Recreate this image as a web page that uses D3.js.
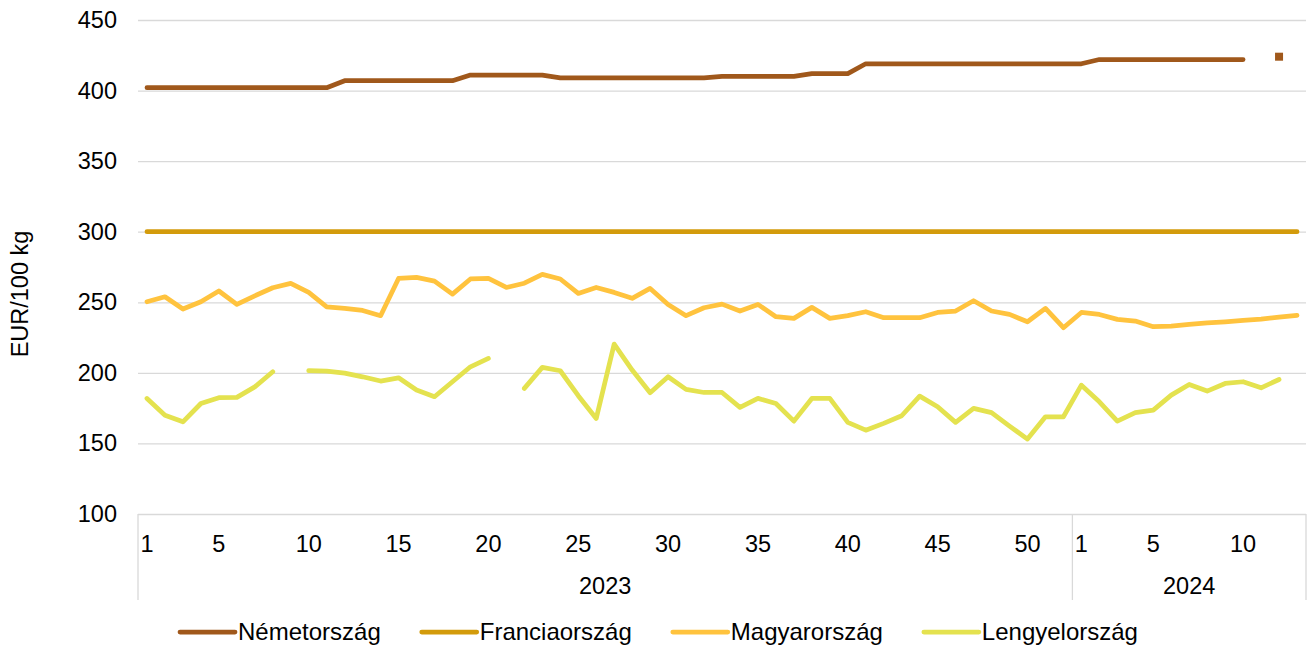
<!DOCTYPE html>
<meta charset="utf-8">
<style>
body {
  margin: 0;
  background-color: #ffffff;
}
text {
  font-family: Arial, "Liberation Sans", sans-serif;
  fill: #000;
}
.grid line {
  stroke: #d9d9d9;
  stroke-width: 1.3px;
}
.grid path {
  display: none;
}
.series {
  fill: none;
  stroke-width: 4.75px;
  stroke-linecap: round;
  stroke-linejoin: round;
}
</style>
<body>
<script src="https://d3js.org/d3.v7.min.js"></script>
<script>
  // categories: week numbers per year
  var weeks2023 = [1,2,3,4,5,6,7,8,9,10,11,12,13,14,15,16,17,18,19,20,21,22,23,24,25,26,
                   27,28,29,30,31,32,33,34,35,36,37,38,39,40,41,42,43,44,45,46,47,48,49,50,51,52];
  var weeks2024 = [1,2,3,4,5,6,7,8,9,10,11,12,13];
  var years = ["2023", "2024"];
  var shownWeeks = [1,5,10,15,20,25,30,35,40,45,50];
  var yTicks = [100,150,200,250,300,350,400,450];

  // EUR/100 kg, 2023 weeks 1-52 then 2024 weeks 1-13
  var nemetorszag = [402,402,402,402,402,402,402,402,402,402,402,407,407,407,407,407,407,407,411,411,
                     411,411,411,409,409,409,409,409,409,409,409,409,410,410,410,410,410,412,412,412,
                     419,419,419,419,419,419,419,419,419,419,419,419,
                     419,422,422,422,422,422,422,422,422,422,null,424,null];
  var franciaorszag = [300,300,300,300,300,300,300,300,300,300,300,300,300,300,300,300,300,300,300,300,
                       300,300,300,300,300,300,300,300,300,300,300,300,300,300,300,300,300,300,300,300,
                       300,300,300,300,300,300,300,300,300,300,300,300,
                       300,300,300,300,300,300,300,300,300,300,300,300,300];
  var magyarorszag = [250.4,253.9,245.2,250.4,258,248.5,254.6,260.3,263.4,257,246.8,245.7,244.2,240.5,266.9,
                      267.6,265,255.8,266.5,266.9,260.5,263.5,269.8,266.5,256.3,260.5,257,252.8,259.8,248.5,
                      240.5,246.1,248.7,243.8,248.5,239.8,238.6,246.4,238.6,240.5,243.3,239.1,239.1,239.1,
                      242.8,243.8,251.1,243.8,241.4,236.2,245.7,232,
                      242.8,241.4,237.9,236.7,232.7,233.1,234.3,235.4,236.2,237.1,238.1,239.5,240.7];
  var lengyelorszag = [181.9,170,165.3,178.3,182.4,182.6,190.1,200.8,null,201.5,201.3,199.8,197.2,194.2,196.5,
                       187.8,183.1,193.7,204.3,210.2,null,189,203.9,201.5,183.8,167.7,220.4,202,185.9,197.2,
                       188.3,186.1,186.1,175.5,181.9,178.3,165.8,181.9,181.9,164.9,159.4,164.2,169.6,183.5,
                       176,164.9,174.8,171.8,162.3,153.1,168.9,168.9,
                       191.3,179.5,165.8,171.8,173.6,184.2,191.8,187.1,192.5,193.7,189.4,195.3,null];

  var seriesNames = ["Németország", "Franciaország", "Magyarország", "Lengyelország"];
  var seriesValues = [nemetorszag, franciaorszag, magyarorszag, lengyelorszag];
  var colors = ["#a0581b", "#d39b0b", "#ffc33e", "#e4e24f"];

  var chartConfig = {
    width: 1309,
    height: 647,
    left: 138,
    right: 1306,
    top: 20,
    bottom: 514,
    fontSize: "23.5px",
    legendFontSize: "24px"
  };

  // build category list
  var cats = [];
  weeks2023.forEach(function(w) { cats.push({key: "2023-" + w, year: "2023", week: w}); });
  weeks2024.forEach(function(w) { cats.push({key: "2024-" + w, year: "2024", week: w}); });

  var x = d3.scaleBand()
            .domain(cats.map(function(d) { return d.key; }))
            .range([chartConfig.left, chartConfig.right])
            .padding(0);
  var y = d3.scaleLinear()
            .domain([100, 450])
            .range([chartConfig.bottom, chartConfig.top]);
  var cx = function(i) { return x(cats[i].key) + x.bandwidth() / 2; };

  var svg = d3.select("body").append("svg")
      .attr("width", chartConfig.width)
      .attr("height", chartConfig.height);

  // gridlines
  svg.append("g")
      .attr("class", "grid")
      .attr("transform", "translate(" + chartConfig.left + ",0)")
      .call(d3.axisLeft(y).tickValues(yTicks)
              .tickSize(-(chartConfig.right - chartConfig.left))
              .tickFormat(""));

  // y axis labels
  var yAxis = svg.append("g")
      .attr("transform", "translate(" + chartConfig.left + ",0)")
      .call(d3.axisLeft(y).tickValues(yTicks).tickSize(0).tickPadding(21));
  yAxis.select(".domain").remove();
  yAxis.selectAll("text")
      .style("font-size", chartConfig.fontSize)
      .style("font-family", "Arial, 'Liberation Sans', sans-serif")
      .attr("fill", "#000");

  svg.append("text")
      .attr("transform", "translate(28," + 294 + ") rotate(-90)")
      .attr("text-anchor", "middle")
      .style("font-size", chartConfig.fontSize)
      .text("EUR/100 kg");

  // x axis: week labels
  var xAxis = svg.append("g")
      .attr("transform", "translate(0," + chartConfig.bottom + ")")
      .call(d3.axisBottom(x).tickSize(0)
              .tickFormat(function(k) {
                var w = +k.split("-")[1];
                return shownWeeks.indexOf(w) >= 0 ? w : "";
              }));
  xAxis.select(".domain").remove();
  xAxis.selectAll("text")
      .attr("y", 38)
      .attr("dy", null)
      .style("font-size", chartConfig.fontSize)
      .style("font-family", "Arial, 'Liberation Sans', sans-serif")
      .attr("fill", "#000");

  // year groups with separators
  years.forEach(function(yr) {
    var inYear = cats.filter(function(d) { return d.year === yr; });
    var x0 = x(inYear[0].key);
    var x1 = x(inYear[inYear.length - 1].key) + x.bandwidth();
    svg.append("text")
        .attr("x", (x0 + x1) / 2)
        .attr("y", 594)
        .attr("text-anchor", "middle")
        .style("font-size", chartConfig.fontSize)
        .text(yr);
    svg.append("line")
        .attr("x1", x0).attr("x2", x0)
        .attr("y1", chartConfig.bottom).attr("y2", 600)
        .attr("stroke", "#d9d9d9").attr("stroke-width", 1.3);
    if (yr === years[years.length - 1]) {
      svg.append("line")
          .attr("x1", x1).attr("x2", x1)
          .attr("y1", chartConfig.bottom).attr("y2", 600)
          .attr("stroke", "#d9d9d9").attr("stroke-width", 1.3);
    }
  });

  // series lines
  var line = d3.line()
      .defined(function(d) { return d != null; })
      .x(function(d, i) { return cx(i); })
      .y(function(d) { return y(d); });

  seriesValues.forEach(function(vals, s) {
    svg.append("path")
        .datum(vals)
        .attr("class", "series")
        .attr("stroke", colors[s])
        .attr("d", line);

    // isolated points get a small square marker
    vals.forEach(function(v, i) {
      if (v == null) return;
      var prev = i > 0 ? vals[i - 1] : null;
      var next = i < vals.length - 1 ? vals[i + 1] : null;
      if (prev == null && next == null) {
        svg.append("rect")
            .attr("x", cx(i) - 4)
            .attr("y", y(v) - 4)
            .attr("width", 8)
            .attr("height", 8)
            .attr("fill", colors[s]);
      }
    });
  });

  // legend
  var lx = 180;
  seriesNames.forEach(function(name, s) {
    var g = svg.append("g");
    g.append("line")
        .attr("x1", lx).attr("x2", lx + 55)
        .attr("y1", 632).attr("y2", 632)
        .attr("stroke", colors[s])
        .attr("stroke-width", 4.75)
        .attr("stroke-linecap", "round");
    var t = g.append("text")
        .attr("x", lx + 58)
        .attr("y", 640)
        .style("font-size", chartConfig.legendFontSize)
        .text(name);
    lx += 58 + t.node().getComputedTextLength() + 41;
  });
</script>
</body>
